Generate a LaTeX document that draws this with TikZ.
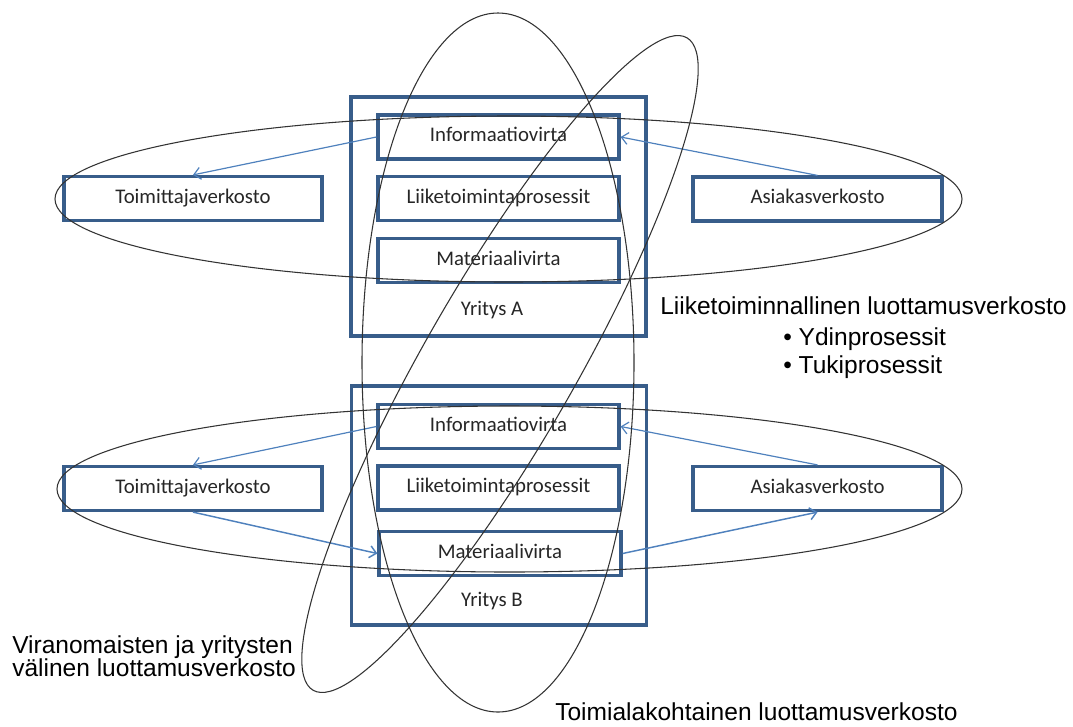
\documentclass[tikz,border=0pt]{standalone}
\usepackage{fontspec}
\setmainfont{Carlito}
\newfontfamily\labelfont{Liberation Sans}
\usetikzlibrary{arrows.meta}
\definecolor{frameblue}{RGB}{56,93,138}
\definecolor{flowblue}{RGB}{79,129,189}
\begin{document}
\begin{tikzpicture}[x=0.75pt,y=-0.75pt,
  unitbox/.style={draw=frameblue, line width=2.4pt, inner sep=0pt,
    minimum width=#1*0.75pt, minimum height=44*0.75pt,
    font=\fontsize{15.6}{18}\selectfont, text=black!85,
    text height=0.7em, text depth=0pt},
  unitbox/.default=241,
  companybox/.style={draw=frameblue, line width=2.4pt, inner sep=0pt,
    minimum width=295*0.75pt, minimum height=239*0.75pt},
  firmlabel/.style={font=\fontsize{15.6}{18}\selectfont, text=black!85, inner sep=0pt},
  flow/.style={draw=flowblue, line width=0.9pt, -{Straight Barb[length=5pt,width=9pt]}},
  ring/.style={draw=black!80, line width=0.8pt},
  bigtext/.style={font=\labelfont\fontsize{18.4}{22}\selectfont, inner sep=0pt, anchor=base west}
]
\useasboundingbox (0,0) rectangle (1073,726);

% Company A
\node[companybox] (firmA) at (498.5,216.5) {};
\node[unitbox] (infoA) at (498.5,137) {Informaatiovirta};
\node[unitbox] (procA) at (498.5,198.5) {Liiketoimintaprosessit};
\node[unitbox] (matA) at (498.5,260.5) {Materiaalivirta};
\node[unitbox=258] (suppA) at (193,198.5) {Toimittajaverkosto};
\node[unitbox=249] (custA) at (817.5,199) {Asiakasverkosto};
\node[firmlabel] (nameA) at (492,310) {Yritys A};

% Company B
\node[companybox] (firmB) at (499,505.5) {};
\node[unitbox] (infoB) at (498.5,426.5) {Informaatiovirta};
\node[unitbox] (procB) at (498.5,488) {Liiketoimintaprosessit};
\node[unitbox=242] (matB) at (500,553.5) {Materiaalivirta};
\node[unitbox=258] (suppB) at (193,488.5) {Toimittajaverkosto};
\node[unitbox=249] (custB) at (817.5,488.5) {Asiakasverkosto};
\node[firmlabel] (nameB) at (492,601) {Yritys B};

% Flows
\draw[flow] (infoA.west) -- (suppA.north);
\draw[flow] (custA.north) -- (infoA.east);
\draw[flow] (infoB.west) -- (suppB.north);
\draw[flow] (custB.north) -- (infoB.east);
\draw[flow, line width=1.1pt] (suppB.south) -- (matB.west);
\draw[flow, line width=1.1pt] (matB.east) -- (custB.south);

% Trust networks
\draw[ring] (508.5,199) ellipse [x radius=453.5, y radius=83];
\draw[ring] (509.5,489) ellipse [x radius=452.5, y radius=83];
\draw[ring] (498,362.5) ellipse [x radius=136, y radius=349.5];
\draw[ring, rotate around={60.2:(500,364)}] (500,364) ellipse [x radius=376, y radius=76];

% Network labels
\node[bigtext] (trustBiz) at (660,314) {Liiketoiminnallinen luottamusverkosto};
\node[bigtext] (coreProc) at (783,345) {• Ydinprosessit};
\node[bigtext] (suppProc) at (783,373) {• Tukiprosessit};
\node[bigtext] (trustGovA) at (12,653) {Viranomaisten ja yritysten};
\node[bigtext] (trustGovB) at (12,676) {välinen luottamusverkosto};
\node[bigtext] (trustInd) at (555,720) {Toimialakohtainen luottamusverkosto};
\end{tikzpicture}
\end{document}
